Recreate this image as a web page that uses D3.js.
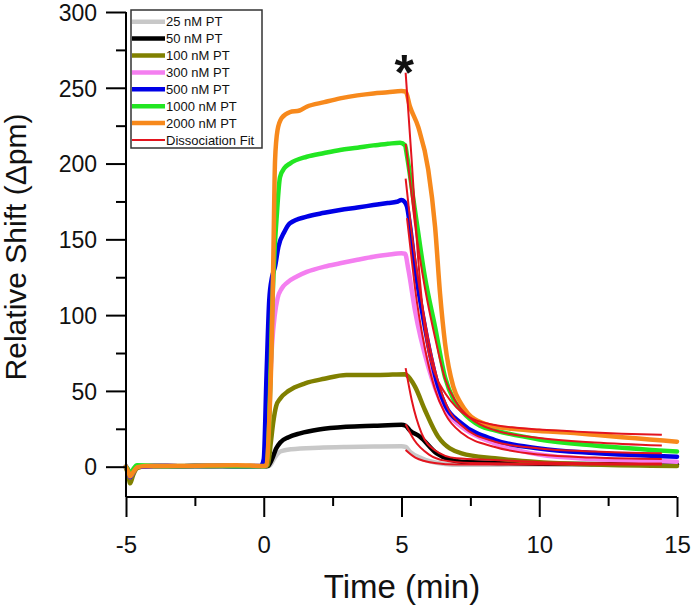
<!DOCTYPE html>
<html>
<head>
<meta charset="utf-8">
<script src="https://cdn.jsdelivr.net/npm/d3@7"></script>
<style>
  html, body { margin: 0; padding: 0; background: #fff; }
  svg { display: block; font-family: Arial, "Liberation Sans", Helvetica, sans-serif; }
</style>
</head>
<body>
<svg id="chart" width="693" height="611"></svg>
<script>
// ---------- DATA (time in min, shift in pm) ----------
const seriesNames = ["25 nM PT", "50 nM PT", "100 nM PT", "300 nM PT", "500 nM PT", "1000 nM PT", "2000 nM PT"];
const fitName = "Dissociation Fit";

const s25 = [[-5,0],[-4.92,-2],[-4.85,-5],[-4.75,-3],[-4.6,0],[-4,0.5],[-3,0.3],[-2,0.5],[-1,0.3],[0,0.3],[0.2,0.5],[0.4,6],[0.6,10],[1,11.5],[2,12.5],[3,13],[4,13.3],[5,13.5],[5.15,13],[5.3,10],[5.73,5.5],[6.5,2],[7.2,1.2],[10,1.5],[15,1.5]];
const s50 = [[-5,0],[-4.92,-3],[-4.85,-7],[-4.75,-4],[-4.6,0],[-4,0.5],[-3,0.3],[-2,0.5],[-1,0.3],[0,0.3],[0.15,0.5],[0.3,5],[0.45,12],[0.6,16],[0.9,19.5],[1.32,22],[2,24.5],[3,26.3],[4,27],[5,27.6],[5.15,27],[5.3,24],[5.67,19.8],[6.28,8.8],[7.18,3.3],[8.5,2.5],[10,2],[15,1.5]];
const s100 = [[-5,-1],[-4.92,-5],[-4.85,-11],[-4.75,-6],[-4.6,-1],[-4.3,0.3],[-3,0.5],[-2,0.3],[-1,0.5],[0,0.3],[0.15,1],[0.25,15],[0.35,30],[0.45,40],[0.6,45],[0.9,50],[1.5,55],[2.2,58],[3,60.5],[4.22,60.5],[5.13,61],[5.18,60.5],[5.49,52.8],[5.85,37.4],[6.33,19.8],[7.18,8.8],[8.39,5.5],[10,3],[12,1.5],[15,0.5]];
const s300 = [[-5,0],[-4.92,-3],[-4.85,-7],[-4.75,-4],[-4.6,0],[-4,0.5],[-3,0.3],[-2,0.5],[-1,0.3],[0,0.3],[0.1,1],[0.2,40],[0.3,80],[0.4,100],[0.5,111],[0.65,117.5],[0.85,121.5],[1.2,125.5],[1.56,128.5],[2.2,132],[2.77,134.2],[3.4,136.5],[3.98,138.5],[4.5,139.8],[5,140.8],[5.13,140.5],[5.25,130],[5.49,103],[5.97,66],[6.58,37.4],[7.18,26.4],[8.39,15.4],[10,8],[12,5],[15,3.3]];
const s500 = [[-5,0],[-4.92,-3],[-4.85,-7],[-4.75,-4],[-4.6,0],[-4,0.5],[-3,0.3],[-2,0.5],[-1,0.3],[-0.1,0.5],[0,5],[0.1,60],[0.2,110],[0.3,125],[0.41,132],[0.53,145],[0.75,155],[0.95,160.6],[1.56,165],[2.2,167.5],[2.77,169.4],[3.4,171],[3.98,172.6],[4.5,174],[4.83,174.8],[5,176],[5.1,175],[5.2,171.5],[5.3,160],[5.49,132],[5.85,92],[6.33,53],[6.6,40],[7.18,28.6],[8.39,17.6],[10,12],[12,9],[15,6.6]];
const s1000 = [[-5,0],[-4.92,-2],[-4.85,-5],[-4.75,-2],[-4.6,1],[-4,0.5],[-3,0.3],[-2,0.5],[-1,0.3],[0,0.3],[0.1,1],[0.2,30],[0.3,100],[0.4,145],[0.47,165],[0.59,191],[0.75,197],[0.95,200],[1.56,204.5],[2.2,207],[2.77,209],[3.4,210.5],[3.98,212],[4.5,213],[4.95,213.8],[5.13,212],[5.2,205],[5.49,169],[5.85,125],[6.22,92],[6.58,59],[6.9,44],[7.18,37],[7.85,27],[8.39,24],[10,18],[12,14],[15,10]];
const s2000 = [[-5,0],[-4.92,-3],[-4.85,-6.5],[-4.75,-4],[-4.6,-0.5],[-4.3,0.5],[-3,0.5],[-2,0.8],[-1,1],[0,0.5],[0.1,1],[0.2,30],[0.3,90],[0.35,140],[0.41,202],[0.5,222],[0.65,230],[0.95,234],[1.3,235],[1.56,237.5],[2.2,240.5],[2.77,243],[3.4,245],[3.98,246.3],[4.5,247],[5,247.8],[5.15,247.5],[5.3,238],[5.61,224],[5.97,196],[6.22,158],[6.4,114],[6.58,81.5],[6.88,52.8],[7.15,42],[7.42,35],[8,28.5],[8.39,26.4],[9,25],[10,23.5],[11,22.5],[12,21],[13,19.5],[14,18],[15,16.5]];

const fit25 = [[5.15,11],[5.5,6],[6.2,2.5],[7,1.5],[14.45,1.5]];
const fit50 = [[5.15,28],[5.46,17.6],[6,8],[6.58,4],[7.5,2.5],[10,2],[14.45,2]];
const fit100 = [[5.15,65],[5.37,44],[5.73,22],[6.2,11],[7,5.5],[8.39,4.4],[10,3],[14.45,2]];
const fit300 = [[5.2,164],[5.35,140],[5.49,118],[5.85,78],[6.2,52],[6.58,35],[7.2,22],[8.39,13],[10,8],[12,6],[14.45,5]];
const fit500 = [[5.15,190],[5.3,165],[5.49,138],[5.85,96],[6.33,56],[6.7,38],[7.2,27],[8.39,16.5],[10,12],[12,10],[14.45,8.8]];
const fit1000 = [[5.15,213],[5.3,190],[5.49,160],[5.85,118],[6.22,85],[6.58,58],[7,42],[7.5,32],[8.39,24],[10,19],[12,16],[14.45,14]];
const fit2000 = [[5.15,260],[5.37,202],[5.61,136],[5.92,81.6],[6.2,62],[6.58,48.6],[7,39],[7.42,33],[8.39,27.5],[9,26],[10,24.5],[11,23.5],[12,22.5],[13,21.8],[14.45,21]];

const xMajorTicks = [-5, 0, 5, 10, 15];
const xMinorTicks = [-2.5, 2.5, 7.5, 12.5];
const yMajorTicks = [0, 50, 100, 150, 200, 250, 300];
const yMinorTicks = [25, 75, 125, 175, 225, 275];

// ---------- STYLE ----------
const colors = ["#c8c8c8", "#000000", "#808000", "#f47ff0", "#0000e6", "#22e622", "#f7891c"];
const fitColor = "#e3141e";
const dataSeries = [s25, s50, s100, s300, s500, s1000, s2000];
const fitSeries = [fit25, fit50, fit100, fit300, fit500, fit1000, fit2000];

const svg = d3.select("#chart");
const x = d3.scaleLinear().domain([-5, 15]).range([126, 677]);
const y = d3.scaleLinear().domain([-20, 300]).range([497, 12]);

const line = d3.line().x(d => x(d[0])).y(d => y(d[1])).curve(d3.curveMonotoneX);

// data curves
svg.append("g").selectAll("path").data(dataSeries).join("path")
  .attr("d", line)
  .attr("fill", "none")
  .attr("stroke", (d, i) => colors[i])
  .attr("stroke-width", 4.5)
  .attr("stroke-linejoin", "round")
  .attr("stroke-linecap", "round");

// fits
svg.append("g").selectAll("path").data(fitSeries).join("path")
  .attr("d", line)
  .attr("fill", "none")
  .attr("stroke", fitColor)
  .attr("stroke-width", 2)
  .attr("stroke-linejoin", "round");

// axes
const axisColor = "#000";
const fontFam = "Arial, Liberation Sans, sans-serif";
const xAxisG = svg.append("g").attr("transform", `translate(0,${y(-20)})`);
const xMajG = xAxisG.append("g").call(d3.axisBottom(x).tickValues(xMajorTicks).tickSize(20)
  .tickFormat(d => d < 0 ? "-" + Math.abs(d) : String(d)));
const xMinG = xAxisG.append("g").call(d3.axisBottom(x).tickValues(xMinorTicks).tickSize(9).tickFormat(""));
xMinG.select(".domain").remove();
xMajG.select(".domain").attr("stroke-width", 2).attr("d", `M${x(-5)},0H${x(15)}`);
xAxisG.selectAll(".tick line").attr("stroke", axisColor).attr("stroke-width", 2);
xMajG.selectAll(".tick text").attr("font-size", 24).attr("fill", "#111").attr("dy", null).attr("y", 56)
  .attr("font-family", fontFam);

const yAxisG = svg.append("g").attr("transform", `translate(${x(-5)},0)`);
const yMajG = yAxisG.append("g").call(d3.axisLeft(y).tickValues(yMajorTicks).tickSize(20).tickPadding(9));
const yMinG = yAxisG.append("g").call(d3.axisLeft(y).tickValues(yMinorTicks).tickSize(10).tickFormat(""));
yMinG.select(".domain").remove();
yMajG.select(".domain").attr("stroke-width", 2).attr("d", `M0,${y(300)}V${y(-20)}`);
yAxisG.selectAll(".tick line").attr("stroke", axisColor).attr("stroke-width", 2);
yMajG.selectAll(".tick text").attr("font-size", 23).attr("fill", "#111").attr("dy", "0.36em")
  .attr("font-family", fontFam);

// axis titles
svg.append("text").attr("x", 402).attr("y", 598).attr("text-anchor", "middle")
  .attr("font-size", 33).attr("fill", "#111").text("Time (min)");
svg.append("text").attr("transform", "translate(26,247) rotate(-90)").attr("text-anchor", "middle")
  .attr("font-size", 30).attr("fill", "#111").text("Relative Shift (\u0394pm)");

// asterisk
svg.append("text").attr("x", x(5.1)).attr("y", 90).attr("text-anchor", "middle")
  .attr("font-size", 50).attr("font-weight", "bold").attr("fill", "#111").text("*");

// legend
const lg = svg.append("g");
lg.append("rect").attr("x", 131).attr("y", 10).attr("width", 131).attr("height", 138)
  .attr("fill", "#fff").attr("stroke", "#333").attr("stroke-width", 1.5);
const legendItems = seriesNames.map((n, i) => ({name: n, color: colors[i], w: 4.5}))
  .concat([{name: fitName, color: fitColor, w: 2}]);
const rows = lg.selectAll("g.row").data(legendItems).join("g").attr("class", "row")
  .attr("transform", (d, i) => `translate(0,${21.7 + i * 16.9})`);
rows.append("line").attr("x1", 132).attr("x2", 165).attr("y1", 0).attr("y2", 0)
  .attr("stroke", d => d.color).attr("stroke-width", d => d.w);
rows.append("text").attr("x", 166).attr("y", 0).attr("dy", "0.35em")
  .attr("font-size", 13).attr("fill", "#111").text(d => d.name);
</script>
</body>
</html>
